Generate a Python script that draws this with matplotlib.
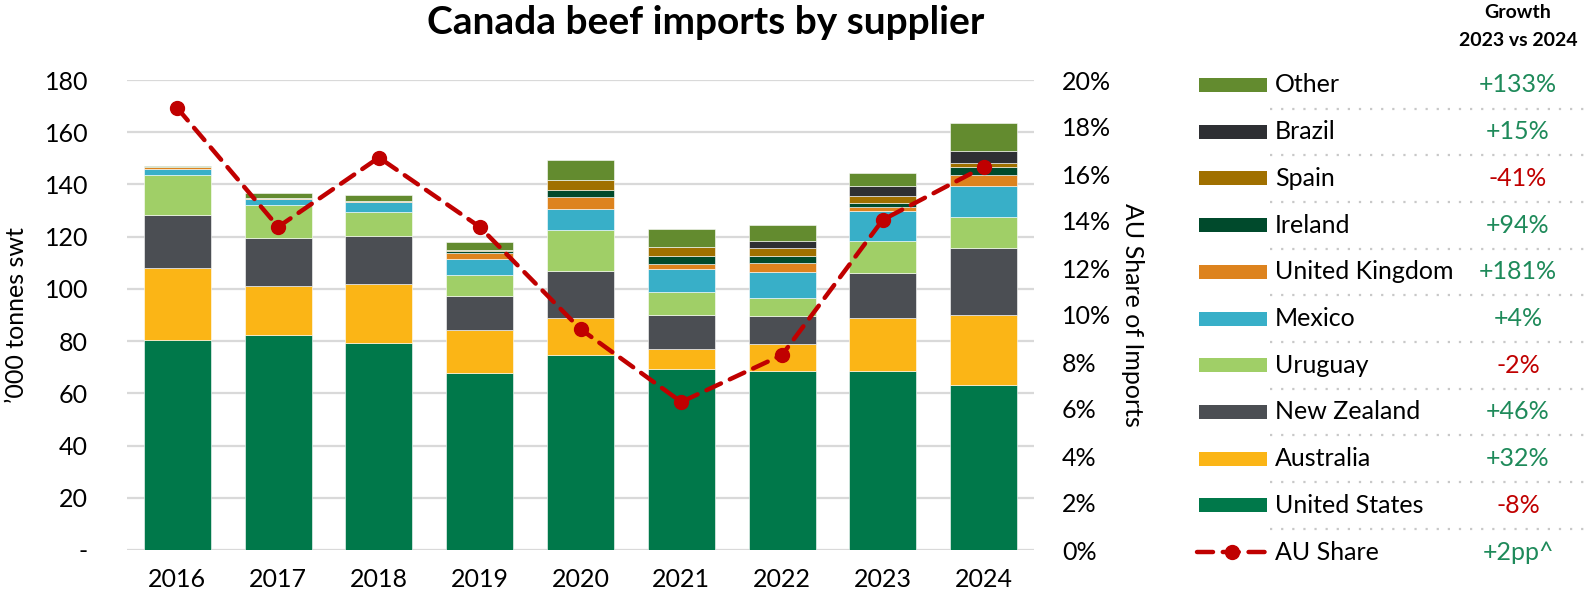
import numpy as np
import matplotlib
matplotlib.use("Agg")
import matplotlib.pyplot as plt
from matplotlib.ticker import FuncFormatter

plt.rcParams['font.family'] = ['Lato', 'DejaVu Sans']

# Canada beef imports by supplier, '000 tonnes swt
years = ['2016', '2017', '2018', '2019', '2020', '2021', '2022', '2023', '2024']
united_states = [80.3, 82.2, 79.2, 67.9, 74.8, 69.3, 68.6, 68.4, 63.1]
australia = [27.7, 18.8, 22.5, 16.2, 14.0, 7.8, 10.4, 20.3, 26.8]
new_zealand = [20.2, 18.4, 18.4, 13.3, 17.9, 12.9, 10.6, 17.5, 25.7]
uruguay = [15.3, 12.6, 9.2, 8.1, 15.9, 8.7, 7.1, 12.1, 11.9]
mexico = [2.6, 2.5, 3.9, 5.8, 7.9, 8.8, 9.6, 11.5, 11.8]
united_kingdom = [0.4, 0.3, 0.3, 2.3, 4.8, 2.1, 3.7, 1.5, 4.2]
ireland = [0.0, 0.0, 0.0, 0.9, 2.7, 2.9, 2.5, 1.7, 3.3]
spain = [0.0, 0.0, 0.0, 0.3, 3.6, 3.6, 3.0, 2.6, 1.5]
brazil = [0.0, 0.0, 0.0, 0.0, 0.0, 0.0, 3.0, 3.9, 4.5]
other = [0.6, 2.0, 2.6, 3.0, 7.8, 7.0, 6.1, 4.7, 10.8]

# Australian share of imports (%)
au_share = [18.8, 13.75, 16.7, 13.75, 9.4, 6.3, 8.3, 14.05, 16.3]

suppliers = ['United States', 'Australia', 'New Zealand', 'Uruguay', 'Mexico',
             'United Kingdom', 'Ireland', 'Spain', 'Brazil', 'Other']
series = [united_states, australia, new_zealand, uruguay, mexico,
          united_kingdom, ireland, spain, brazil, other]
colors = ['#00784a', '#fbb516', '#4b4e53', '#a0cf67', '#38afc8',
          '#dd831e', '#004a2c', '#a07000', '#2e2f33', '#638b2f']

# growth 2023 vs 2024, top of the legend downwards
growth_labels = ['+133%', '+15%', '-41%', '+94%', '+181%', '+4%', '-2%',
                 '+46%', '+32%', '-8%', '+2pp^']

GREEN_TXT = '#1e8a5a'
RED = '#c00000'
GRID = '#d9d9d9'
FS = 18

W, H = 1591, 599
fig = plt.figure(figsize=(W / 100, H / 100), dpi=100)
ax = fig.add_axes([127 / W, (H - 550) / H, (1034 - 127) / W, (550 - 80) / H])

x = np.arange(len(years))
bottom = np.zeros(len(years))
for vals, col, name in zip(series, colors, suppliers):
    v = np.array(vals)
    ax.bar(x, v, 0.665, bottom=bottom, color=col, edgecolor='#ffffff',
           linewidth=0.4, label=name, zorder=2)
    bottom += v

ax.set_xlim(-0.5, len(years) - 0.5)
ax.set_ylim(0, 180)
ax.set_yticks(np.arange(0, 181, 20))
ax.yaxis.set_major_formatter(FuncFormatter(lambda v, p: '-' if v == 0 else f'{v:.0f}'))
ax.set_xticks(x)
ax.set_xticklabels(years)
ax.grid(axis='y', color=GRID, linewidth=1.6, zorder=0)
ax.set_axisbelow(True)
for s in ax.spines.values():
    s.set_visible(False)
ax.tick_params(axis='both', length=0, labelsize=FS, colors='black')
ax.tick_params(axis='x', pad=13)
ax.tick_params(axis='y', pad=28)
ax.set_ylabel("\u2019000 tonnes swt", fontsize=FS, labelpad=12)

ax2 = ax.twinx()
ax2.set_ylim(0, 20)
ax2.set_yticks(np.arange(0, 21, 2))
ax2.yaxis.set_major_formatter(FuncFormatter(lambda v, p: f'{v:.0f}%'))
for s in ax2.spines.values():
    s.set_visible(False)
ax2.tick_params(axis='y', length=0, labelsize=FS, pad=20)
ax2.plot(x, au_share, color=RED, linewidth=3.2, linestyle=(0, (3.6, 2.2)),
         marker='o', markersize=10, zorder=5, dash_capstyle='round')
ax2.set_ylabel('AU Share of Imports', fontsize=FS, rotation=270, labelpad=24)

fig.text(706 / W, 1 - 22 / H, 'Canada beef imports by supplier',
         fontsize=28, fontweight='bold', ha='center', va='center')

# legend panel drawn in pixel units
lg = fig.add_axes([1160 / W, 0, (W - 1160) / W, 1])
lg.set_xlim(0, W - 1160)
lg.set_ylim(H, 0)
lg.axis('off')

lg.text(358, 13, 'Growth', fontsize=14, fontweight='bold', ha='center', va='center')
lg.text(358, 41, '2023 vs 2024', fontsize=14, fontweight='bold', ha='center', va='center')

legend_names = suppliers[::-1]
legend_cols = colors[::-1]
row_y = 85
step = 46.7
for i, (name, col) in enumerate(zip(legend_names, legend_cols)):
    yy = row_y + i * step
    lg.add_patch(plt.Rectangle((39, yy - 7), 68, 14, color=col, lw=0))
    lg.text(115, yy, name, fontsize=FS, ha='left', va='center')
    g = growth_labels[i]
    lg.text(358, yy, g, fontsize=FS, ha='center', va='center',
            color=RED if g.startswith('-') else GREEN_TXT)
    lg.plot([110, 431], [yy + 23.5, yy + 23.5], color='#c8c8c8',
            linewidth=1.6, linestyle=(0, (1, 4)))

yy = row_y + len(legend_names) * step
lg.plot([37, 108], [yy, yy], color=RED, linewidth=3.2,
        linestyle=(0, (3.6, 2.2)), dash_capstyle='round')
lg.plot([72], [yy], 'o', color=RED, markersize=10)
lg.text(115, yy, 'AU Share', fontsize=FS, ha='left', va='center')
lg.text(358, yy, growth_labels[-1], fontsize=FS, ha='center', va='center', color=GREEN_TXT)

fig.savefig('out.png', dpi=100)
